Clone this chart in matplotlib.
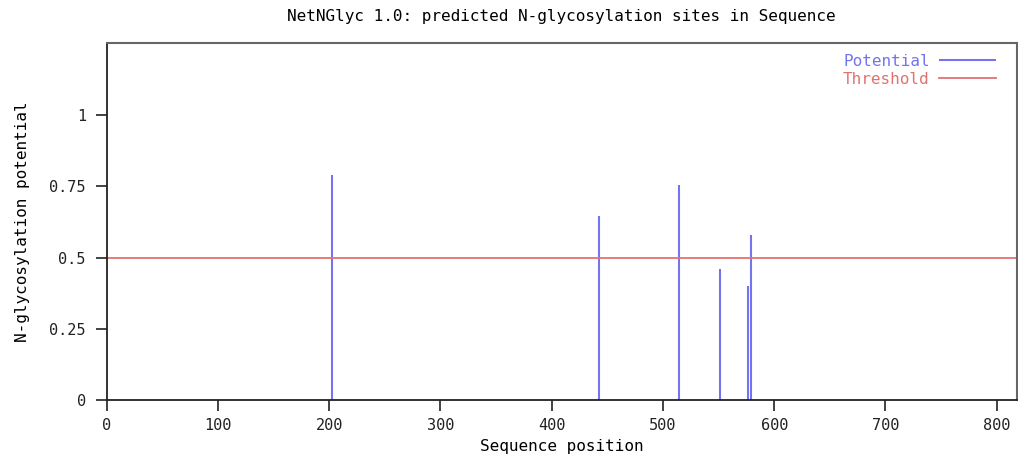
import matplotlib
matplotlib.use("Agg")
import matplotlib.pyplot as plt

# === 資料 ===
positions = [202.8, 442.8, 514.7, 551.2, 576.4, 578.8]
potentials = [0.79, 0.647, 0.755, 0.46, 0.40, 0.58]
threshold = 0.5
xticks = [0, 100, 200, 300, 400, 500, 600, 700, 800]
yticks = [0, 0.25, 0.5, 0.75, 1]
ytick_labels = ["0", "0.25", "0.5", "0.75", "1"]

BLUE = '#7474ee'
RED = '#e07272'

plt.rcParams['font.family'] = ['DejaVu Sans Mono']
plt.rcParams['font.size'] = 11

fig = plt.figure(figsize=(10.18, 4.63), dpi=100)
ax = fig.add_axes([0.1048, 0.136, 0.894, 0.771])

ax.vlines(positions, 0, potentials, colors=BLUE, linewidth=1.5, label='Potential')
ax.axhline(threshold, color=RED, linewidth=1.3, label='Threshold')

ax.set_xlim(0, 818)
ax.set_ylim(0, 1.253)
ax.set_xticks(xticks)
ax.set_yticks(yticks)
ax.set_yticklabels(ytick_labels)
ax.tick_params(direction='out', length=8, width=1.2, colors='#222222', pad=5)
ax.tick_params(axis='y', pad=7)

for side in ['top', 'right']:
    ax.spines[side].set_color('#666666')
    ax.spines[side].set_linewidth(1.5)
for side in ['left', 'bottom']:
    ax.spines[side].set_color('#222222')
    ax.spines[side].set_linewidth(1.3)

ax.set_title('NetNGlyc 1.0: predicted N-glycosylation sites in Sequence', pad=16, fontsize=11.5)
ax.set_xlabel('Sequence position', fontsize=11.5, labelpad=4)
ax.set_ylabel('N-glycosylation potential', fontsize=11.5, labelpad=14)

leg = ax.legend(loc='upper right', bbox_to_anchor=(1.0, 1.028), frameon=False, markerfirst=False,
                handlelength=3.6, handletextpad=0.55, borderpad=0.4, borderaxespad=0.9,
                labelspacing=0.2, fontsize=11.5)
for txt, col in zip(leg.get_texts(), [BLUE, RED]):
    txt.set_color(col)

fig.savefig('out.png', dpi=100)
